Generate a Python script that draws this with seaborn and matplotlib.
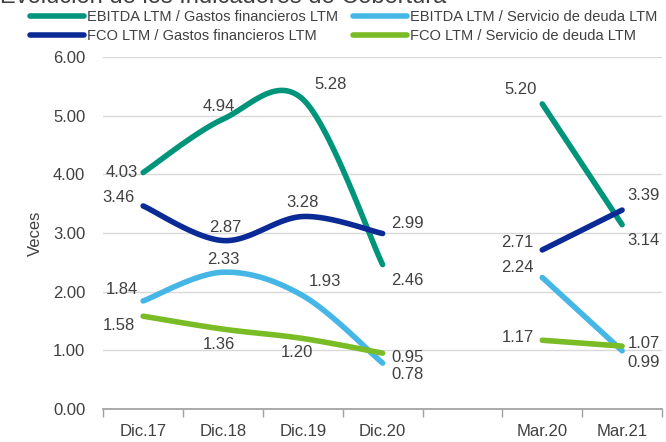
import numpy as np
import pandas as pd
import matplotlib
matplotlib.use("Agg")
import matplotlib.pyplot as plt
import seaborn as sns
from matplotlib.lines import Line2D

categories = ["Dic.17", "Dic.18", "Dic.19", "Dic.20", "", "Mar.20", "Mar.21"]
series_names = ["EBITDA LTM / Gastos financieros LTM", "EBITDA LTM / Servicio de deuda LTM",
                "FCO LTM / Gastos financieros LTM", "FCO LTM / Servicio de deuda LTM"]
ebitda_gf_annual = [4.03, 4.94, 5.28, 2.46]
ebitda_gf_mar = [5.20, 3.14]
ebitda_sd_annual = [1.84, 2.33, 1.93, 0.78]
ebitda_sd_mar = [2.24, 0.99]
fco_gf_annual = [3.46, 2.87, 3.28, 2.99]
fco_gf_mar = [2.71, 3.39]
fco_sd_annual = [1.58, 1.36, 1.20, 0.95]
fco_sd_mar = [1.17, 1.07]
colors = ["#00957A", "#45B6E6", "#0A2A96", "#79BC25"]

# label offsets (points): per series, per point
offsets = {
    0: [(-4, 0, "right", "center"), (-3, 4, "center", "bottom"), (8, 5, "left", "bottom"), (6, -6, "left", "top"),
        (-4, 5, "right", "bottom"), (4, -6, "left", "top")],
    1: [(-4, 3, "right", "bottom"), (0, 4, "center", "bottom"), (4, 5, "left", "bottom"), (6, -3, "left", "top"),
        (-6, 2, "right", "bottom"), (4, -3, "left", "top")],
    2: [(-6, 1, "right", "bottom"), (2, 4, "center", "bottom"), (0, 5, "center", "bottom"), (6, 2, "left", "bottom"),
        (-6, 0, "right", "bottom"), (4, 5, "left", "bottom")],
    3: [(-6, -1, "right", "top"), (-3, -6, "center", "top"), (-4, -5, "center", "top"), (6, 2, "left", "top"),
        (-6, 2, "right", "center"), (4, 2, "left", "center")],
}

FONT = ["Liberation Sans", "DejaVu Sans"]

def smooth(xs, ys, n=40):
    xs = np.asarray(xs, float); ys = np.asarray(ys, float)
    if len(xs) < 3:
        t = np.linspace(0, 1, n)
        return xs[0] + (xs[1]-xs[0])*t, ys[0] + (ys[1]-ys[0])*t
    P = np.column_stack([xs, ys])
    out = []
    for i in range(len(P) - 1):
        p0 = P[i-1] if i > 0 else P[i]
        p1, p2 = P[i], P[i+1]
        p3 = P[i+2] if i + 2 < len(P) else P[i+1]
        c1 = p1 + (p2 - p0) / 6
        c2 = p2 - (p3 - p1) / 6
        t = np.linspace(0, 1, n)[:, None]
        seg = (1-t)**3*p1 + 3*(1-t)**2*t*c1 + 3*(1-t)*t**2*c2 + t**3*p2
        out.append(seg if i == 0 else seg[1:])
    seg = np.vstack(out)
    return seg[:, 0], seg[:, 1]

sns.set_theme(style="white")
plt.rcParams["font.family"] = FONT

fig = plt.figure(figsize=(6.66, 4.42), dpi=100)
ax = fig.add_axes([0.155, 0.075, 0.839, 0.796])

annual = [ebitda_gf_annual, ebitda_sd_annual, fco_gf_annual, fco_sd_annual]
march = [ebitda_gf_mar, ebitda_sd_mar, fco_gf_mar, fco_sd_mar]
xa = [0, 1, 2, 3]
xm = [5, 6]

rows = []
for s, name in enumerate(series_names):
    for seg_id, (xs, ys) in enumerate([(xa, annual[s]), (xm, march[s])]):
        sx, sy = smooth(xs, ys)
        for k, (a, b) in enumerate(zip(sx, sy)):
            rows.append({"serie": name, "seg": f"{name}-{seg_id}", "x": a, "y": b, "k": k})
df = pd.DataFrame(rows)

for s, name in enumerate(series_names):
    for seg_id in range(2):
        d = df[df["seg"] == f"{name}-{seg_id}"]
        sns.lineplot(data=d, x="x", y="y", sort=False, estimator=None, color=colors[s],
                     lw=4, ax=ax, legend=False, solid_capstyle="round", zorder=3)

for s in range(4):
    vals = annual[s] + march[s]
    xs = xa + xm
    for j, (x, v) in enumerate(zip(xs, vals)):
        dx, dy, ha, va = offsets[s][j]
        ax.annotate(f"{v:.2f}", (x, v), xytext=(dx, dy), textcoords="offset points",
                    ha=ha, va=va, fontsize=12, color="#404040", zorder=4)

ax.set_xlim(-0.5, 6.5)
ax.set_ylim(0, 6)
ax.set_yticks(np.arange(0, 7, 1))
ax.set_yticklabels([f"{v:.2f}" for v in np.arange(0, 7, 1)], fontsize=12, color="#404040")
ax.set_xticks(range(len(categories)))
ax.set_xticklabels(categories, fontsize=12, color="#404040")
ax.set_xticks(np.arange(-0.5, 7, 1), minor=True)
ax.tick_params(axis="x", which="major", length=0, pad=11)
ax.tick_params(axis="x", which="minor", length=6, color="#A0A0A0", width=1, bottom=True)
ax.tick_params(axis="y", length=0, pad=13)
ax.grid(axis="y", color="#D9D9D9", lw=1)
ax.set_axisbelow(True)
for sp in ["top", "right", "left"]:
    ax.spines[sp].set_visible(False)
ax.spines["bottom"].set_color("#A0A0A0")
ax.spines["bottom"].set_zorder(5)
ax.set_xlabel("")
ax.set_ylabel("Veces", fontsize=12, color="#404040", labelpad=7)

col_x = [30 / 666, 353 / 666]
for c, idx in enumerate([[0, 2], [1, 3]]):
    handles = [Line2D([0], [0], color=colors[i], lw=4, solid_capstyle="round") for i in idx]
    labels = [series_names[i] for i in idx]
    leg = fig.legend(handles, labels, ncol=1, loc="upper left", bbox_to_anchor=(col_x[c], 0.977),
                     frameon=False, fontsize=10.5, handlelength=3.7, handletextpad=0.2,
                     borderpad=0, borderaxespad=0, labelspacing=0.32, labelcolor="#404040")

fig.text(0.0, 1.006, "Evolución de los Indicadores de Cobertura", fontsize=17,
         color="#404040", ha="left", va="center")

fig.savefig("out.png", dpi=100)
